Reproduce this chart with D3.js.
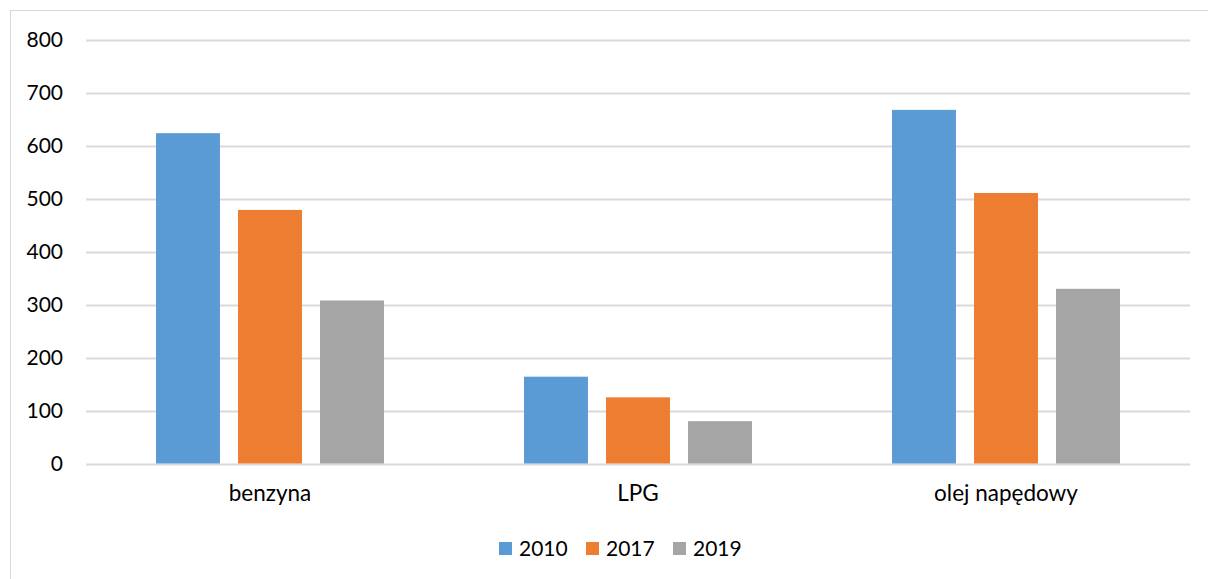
<!DOCTYPE html>
<html>
<head>
<meta charset="utf-8">
<script src="https://cdn.jsdelivr.net/npm/d3@7"></script>
<style>
  html, body { margin: 0; padding: 0; background: #fff; }
  svg { display: block; }
  text { font-family: Lato, "Open Sans", sans-serif; fill: #000; }
</style>
</head>
<body>
<svg id="chart" width="1208" height="579"></svg>
<script>
const categories = ["benzyna", "LPG", "olej napędowy"];
const seriesNames = ["2010", "2017", "2019"];
const values2010 = [624, 164, 668];
const values2017 = [479, 125, 511];
const values2019 = [308, 80, 330];
const yTicks = [0, 100, 200, 300, 400, 500, 600, 700, 800];
const colors = ["#5b9bd5", "#ed7d31", "#a5a5a5"];

const seriesValues = [values2010, values2017, values2019];

const svg = d3.select("#chart");
const W = 1208, H = 579;

// chart frame
svg.append("rect")
  .attr("x", 10.5).attr("y", 10.5)
  .attr("width", W + 10).attr("height", H + 10)
  .attr("fill", "#fff").attr("stroke", "#d9d9d9").attr("stroke-width", 1);

const plot = { left: 86, right: 1190, top: 40, bottom: 463.5 };

const y = d3.scaleLinear().domain([0, 800]).range([plot.bottom, plot.top]);
const x0 = d3.scaleBand().domain(categories).range([plot.left, plot.right]).padding(0);
const groupW = 228;
const x1 = d3.scaleBand().domain(seriesNames)
  .range([(x0.bandwidth() - groupW) / 2, (x0.bandwidth() + groupW) / 2])
  .paddingInner(0.22).paddingOuter(0);

// gridlines
svg.append("g").selectAll("line").data(yTicks).join("line")
  .attr("x1", plot.left).attr("x2", plot.right)
  .attr("y1", d => Math.round(y(d)) + 0.5).attr("y2", d => Math.round(y(d)) + 0.5)
  .attr("stroke", "#d9d9d9").attr("stroke-width", 2);

// y axis labels
const yAxis = d3.axisLeft(y).tickValues(yTicks).tickSize(0).tickPadding(0);
const gy = svg.append("g").attr("transform", `translate(63,0)`).call(yAxis);
gy.select(".domain").remove();
gy.selectAll("text").attr("font-size", 21).attr("font-family", "Lato, sans-serif").attr("fill", "#000");

// bars
const groups = svg.append("g").selectAll("g").data(categories).join("g")
  .attr("transform", d => `translate(${x0(d)},0)`);
groups.selectAll("rect")
  .data((c, ci) => seriesNames.map((s, si) => ({ s, si, v: seriesValues[si][ci] })))
  .join("rect")
  .attr("x", d => x1(d.s))
  .attr("width", x1.bandwidth())
  .attr("y", d => y(d.v))
  .attr("height", d => y(0) - y(d.v))
  .attr("fill", d => colors[d.si]);

// x axis labels
const xAxis = d3.axisBottom(x0).tickSize(0).tickPadding(0);
const gx = svg.append("g").attr("transform", `translate(0,485)`).call(xAxis);
gx.select(".domain").remove();
gx.selectAll("text").attr("font-size", 22.5).attr("font-family", "Lato, sans-serif").attr("fill", "#000");

// legend
const legendX = [499, 586, 673];
const leg = svg.append("g").selectAll("g").data(seriesNames).join("g")
  .attr("transform", (d, i) => `translate(${legendX[i]},542)`);
leg.append("rect").attr("width", 13).attr("height", 13)
  .attr("fill", (d, i) => colors[i]);
leg.append("text").attr("x", 20).attr("y", 6.5).attr("dy", "0.35em")
  .attr("font-size", 21).text(d => d);
</script>
</body>
</html>
